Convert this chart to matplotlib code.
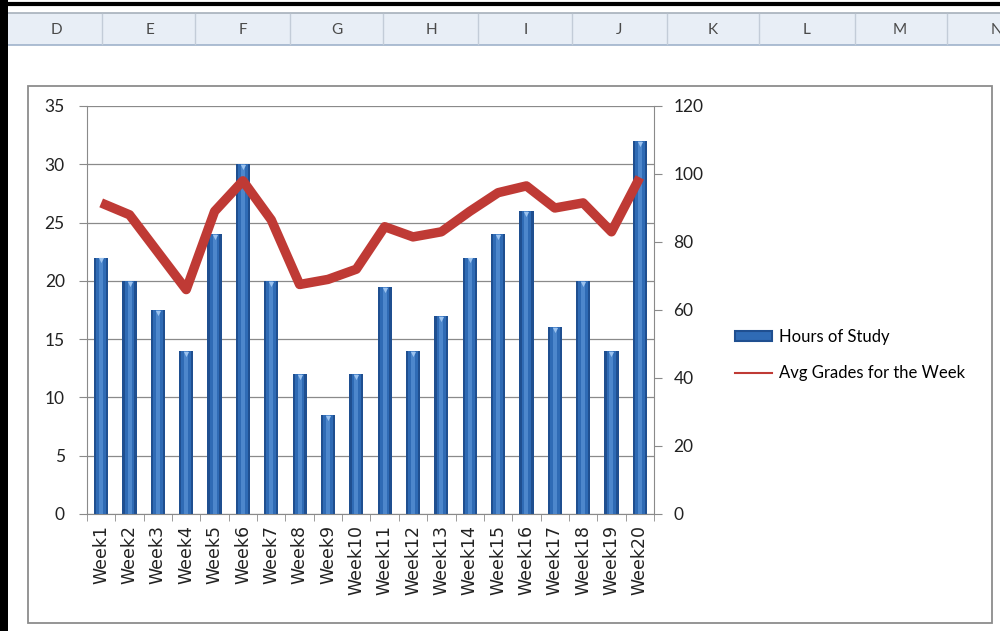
import matplotlib.pyplot as plt
from matplotlib.patches import Rectangle, Patch
from matplotlib.lines import Line2D
import numpy as np

weeks = ['Week%d' % i for i in range(1, 21)]
hours = [22, 20, 17.5, 14, 24, 30, 20, 12, 8.5, 12,
         19.5, 14, 17, 22, 24, 26, 16, 20, 14, 32]
grades = [91.5, 88, 77, 66, 89, 98, 86.5, 67.5, 69, 72,
          84.5, 81.5, 83, 89, 94.5, 96.5, 90, 91.5, 83, 99]
columns = ['D', 'E', 'F', 'G', 'H', 'I', 'J', 'K', 'L', 'M', 'N']

W, H = 1000, 631
BAR_DARK = '#1f4f90'
BAR_MID = '#2f6bb5'
BAR_LIGHT = '#5a93d6'
LINE_RED = '#bf3a35'
GRID = '#8a8a8a'


def px(x, y):
    """pixel coords (top-left origin) -> figure fraction"""
    return x / W, 1 - y / H


def draw_sheet(fig):
    # spreadsheet column header strip
    fig.patches.append(Rectangle(px(0, 45), 1, 32 / H, transform=fig.transFigure,
                                 facecolor='#e8eef6', edgecolor='none', zorder=0))
    fig.add_artist(Line2D([0, 1], [px(0, 13)[1]] * 2, color='#a7b0bb', lw=1.2))
    fig.add_artist(Line2D([0, 1], [px(0, 45)[1]] * 2, color='#9fb3cb', lw=1.2))
    seps = [102, 195, 290, 383, 478, 572, 667, 759, 855, 947]
    for s in seps:
        fig.add_artist(Line2D([s / W] * 2, [px(0, 44)[1], px(0, 14)[1]],
                              color='#c3ccd8', lw=1))
    centers = [56, 150, 243, 337, 431, 526, 619, 713, 807, 900, 996]
    for c, name in zip(centers, columns):
        fig.text(c / W, px(0, 30)[1], name, ha='center', va='center',
                 fontsize=11, color='#4a4a4a', family='Lato')
    # screenshot frame
    fig.patches.append(Rectangle((0, 0), 8 / W, 1, transform=fig.transFigure,
                                 facecolor='black', edgecolor='none', zorder=5))
    fig.add_artist(Line2D([0, 1], [px(0, 4)[1]] * 2, color='black', lw=3))
    # chart area border
    x0, y0 = px(28, 623)
    fig.patches.append(Rectangle((x0, y0), (992 - 28) / W, (623 - 86) / H,
                                 transform=fig.transFigure, facecolor='none',
                                 edgecolor='#8c8c8c', lw=1.3, zorder=1))


def main():
    fig = plt.figure(figsize=(W / 100, H / 100), dpi=100)
    draw_sheet(fig)

    left, top = px(87, 106)
    _, bottom = px(0, 514)
    ax = fig.add_axes([left, bottom, (654 - 87) / W, top - bottom])
    x = np.arange(len(weeks))

    # cylinder-ish bars: stacked layers of narrowing width
    ax.bar(x, hours, width=0.5, color=BAR_DARK, zorder=2)
    ax.bar(x, hours, width=0.34, color=BAR_MID, zorder=3)
    ax.bar(x, hours, width=0.14, color=BAR_LIGHT, alpha=0.7, zorder=4)
    ax.scatter(x, np.array(hours) - 0.25, marker='v', s=14, color='#9cc3ef',
               zorder=5, linewidths=0)

    ax.set_xlim(-0.5, len(weeks) - 0.5)
    ax.set_ylim(0, 35)
    ax.set_yticks(np.arange(0, 36, 5))
    ax.yaxis.grid(True, color=GRID, lw=0.9)
    ax.set_axisbelow(True)
    ax.set_xticks(x)
    ax.set_xticklabels(weeks, rotation=90, family='DejaVu Sans', fontsize=12.5,
                       color='#222222')
    ax.set_xticks(np.arange(-0.5, len(weeks)), minor=True)
    ax.tick_params(axis='x', which='major', length=0, pad=8)
    ax.tick_params(axis='x', which='minor', length=5, color=GRID, direction='out')
    ax.tick_params(axis='y', length=6, color=GRID, pad=10, labelsize=12.5,
                   labelcolor='#222222')
    for lab in ax.get_yticklabels():
        lab.set_family('Lato')
    for side in ['top', 'right']:
        ax.spines[side].set_visible(False)
    ax.spines['left'].set_color(GRID)
    ax.spines['bottom'].set_color(GRID)

    ax2 = ax.twinx()
    ax2.plot(x, grades, color=LINE_RED, lw=6.8, solid_joinstyle='round',
             solid_capstyle='butt', zorder=6)
    ax2.set_ylim(0, 120)
    ax2.set_yticks(np.arange(0, 121, 20))
    ax2.tick_params(axis='y', length=6, color=GRID, pad=8, labelsize=12.5,
                    labelcolor='#222222')
    for lab in ax2.get_yticklabels():
        lab.set_family('Lato')
    for side in ['top', 'left', 'bottom']:
        ax2.spines[side].set_visible(False)
    ax2.spines['right'].set_color(GRID)

    handles = [Patch(facecolor=BAR_MID, edgecolor=BAR_DARK, lw=1.5),
               Line2D([], [], color=LINE_RED, lw=1.5)]
    fig.legend(handles, ['Hours of Study', 'Avg Grades for the Week'],
               loc='center left', bbox_to_anchor=px(735, 355), frameon=False,
               borderpad=0, borderaxespad=0, handlelength=2.2, handleheight=0.55,
               handletextpad=0.45, labelspacing=1.2,
               prop={'family': 'Lato', 'size': 12})

    fig.savefig('out.png', dpi=100, facecolor='white')


if __name__ == '__main__':
    main()
